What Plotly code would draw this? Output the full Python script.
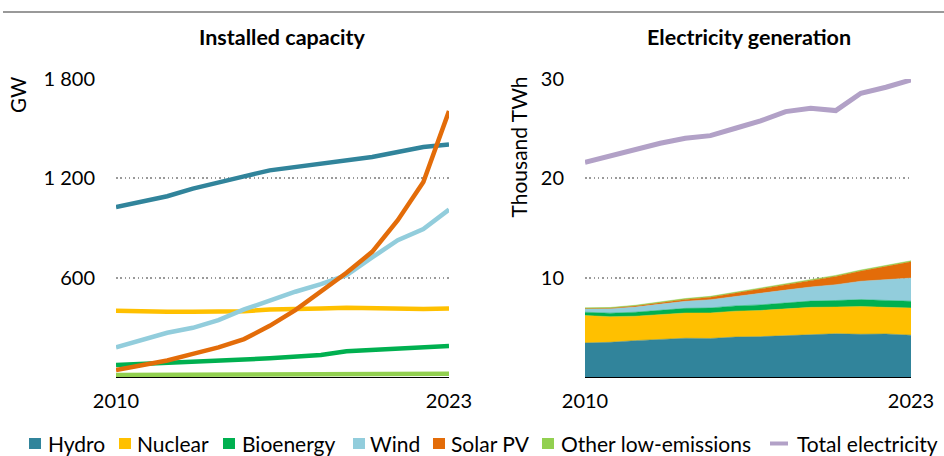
import plotly.graph_objects as go

W, H = 944, 456
FONT = "Lato, Calibri, Carlito, sans-serif"

years = [2010, 2011, 2012, 2013, 2014, 2015, 2016, 2017, 2018, 2019, 2020, 2021, 2022, 2023]

# Installed capacity (GW)
cap_hydro = [1027, 1057, 1092, 1138, 1178, 1212, 1248, 1268, 1289, 1309, 1329, 1359, 1389, 1405]
cap_nuclear = [400, 394, 394, 394, 395, 397, 408, 414, 414, 418, 414, 414, 411, 414]
cap_bio = [72, 80, 87, 93, 100, 106, 113, 121, 133, 155, 164, 172, 180, 187]
cap_wind = [179, 223, 267, 297, 344, 408, 464, 515, 561, 615, 722, 826, 893, 1011]
cap_solar = [42, 70, 100, 140, 179, 229, 309, 404, 515, 630, 756, 947, 1178, 1606]
cap_other = [12, 13, 13, 14, 14, 15, 15, 16, 16, 17, 17, 18, 19, 20]

# Electricity generation (thousand TWh)
gen_hydro = [3.43, 3.49, 3.66, 3.79, 3.90, 3.88, 4.02, 4.06, 4.17, 4.22, 4.35, 4.30, 4.33, 4.21]
gen_nuclear = [2.76, 2.58, 2.46, 2.48, 2.54, 2.57, 2.61, 2.64, 2.71, 2.79, 2.69, 2.80, 2.68, 2.74]
gen_bio = [0.33, 0.36, 0.40, 0.43, 0.47, 0.50, 0.53, 0.56, 0.60, 0.63, 0.66, 0.69, 0.70, 0.68]
gen_wind = [0.34, 0.44, 0.52, 0.64, 0.71, 0.83, 0.96, 1.13, 1.27, 1.42, 1.59, 1.85, 2.10, 2.33]
gen_solar = [0.03, 0.06, 0.10, 0.14, 0.19, 0.25, 0.33, 0.45, 0.57, 0.68, 0.84, 1.02, 1.30, 1.63]
gen_other = [0.07, 0.07, 0.08, 0.08, 0.09, 0.09, 0.09, 0.10, 0.10, 0.10, 0.10, 0.11, 0.11, 0.11]
gen_total = [21.62, 22.29, 22.86, 23.53, 24.03, 24.30, 25.04, 25.78, 26.72, 27.06, 26.82, 28.57, 29.17, 29.91]

series_names = ["Hydro", "Nuclear", "Bioenergy", "Wind", "Solar PV", "Other low-emissions"]
total_name = "Total electricity"

cap_ticks = [600, 1200, 1800]
cap_ticktext = ["600", "1 200", "1 800"]
gen_ticks = [10, 20, 30]
gen_ticktext = ["10", "20", "30"]
x_ticks = [2010, 2023]

colors = ["#31849B", "#FFC000", "#00B050", "#92CDDC", "#E36C09", "#92D050"]
total_color = "#B2A1C7"

cap_series = [cap_hydro, cap_nuclear, cap_bio, cap_wind, cap_solar, cap_other]
gen_series = [gen_hydro, gen_nuclear, gen_bio, gen_wind, gen_solar, gen_other]

fig = go.Figure()

for name, vals, col in zip(series_names, cap_series, colors):
    fig.add_trace(go.Scatter(x=years, y=vals, name=name, mode="lines",
                             line=dict(color=col, width=4.5),
                             xaxis="x", yaxis="y", showlegend=False))

for name, vals, col in zip(series_names, gen_series, colors):
    fig.add_trace(go.Scatter(x=years, y=vals, name=name, mode="lines",
                             stackgroup="gen", fillcolor=col,
                             line=dict(color=col, width=0.5),
                             xaxis="x2", yaxis="y2", showlegend=False))

fig.add_trace(go.Scatter(x=years, y=gen_total, name=total_name, mode="lines",
                         line=dict(color=total_color, width=5),
                         xaxis="x2", yaxis="y2", showlegend=False))

def px_x(p):
    return p / W

def px_y(p):
    return (H - p) / H

ydom = [px_y(377), px_y(79)]
tickfont = dict(family=FONT, size=20, color="#000000")

common_y = dict(showgrid=True, gridcolor="#9a9a9a", gridwidth=1.5, griddash="1.5px,2.8px",
                zeroline=False, showline=False, ticks="", tickfont=tickfont,
                ticklabelstandoff=20, domain=ydom, automargin=False)
common_x = dict(showgrid=False, zeroline=False, showline=True, linecolor="#000000",
                linewidth=1.2, ticks="", tickvals=x_ticks, ticktext=[str(v) for v in x_ticks],
                tickfont=tickfont, ticklabelstandoff=6, range=[2010, 2023], automargin=False)

fig.update_layout(
    template="none",
    width=W, height=H,
    margin=dict(l=0, r=0, t=0, b=0, autoexpand=False),
    paper_bgcolor="#ffffff", plot_bgcolor="#ffffff",
    font=dict(family=FONT, size=20, color="#000000"),
    showlegend=False,
    xaxis=dict(common_x, domain=[px_x(116), px_x(449)], anchor="y"),
    yaxis=dict(common_y, range=[0, 1800], tickvals=cap_ticks, ticktext=cap_ticktext, anchor="x"),
    xaxis2=dict(common_x, domain=[px_x(585), px_x(911)], anchor="y2"),
    yaxis2=dict(common_y, range=[0, 30], tickvals=gen_ticks, ticktext=gen_ticktext, anchor="x2"),
)

shapes = [dict(type="line", xref="paper", yref="paper", x0=px_x(3), x1=1, y0=px_y(12), y1=px_y(12),
               line=dict(color="#999999", width=2))]

annotations = [
    dict(text="<b>Installed capacity</b>", x=px_x(282.5), y=px_y(37), xref="paper", yref="paper",
         xanchor="center", yanchor="middle", showarrow=False, font=dict(family=FONT, size=21.5)),
    dict(text="<b>Electricity generation</b>", x=px_x(749), y=px_y(37), xref="paper", yref="paper",
         xanchor="center", yanchor="middle", showarrow=False, font=dict(family=FONT, size=21.5)),
    dict(text="GW", x=px_x(18), y=px_y(75), xref="paper", yref="paper", textangle=-90,
         xanchor="center", yanchor="top", showarrow=False, font=dict(family=FONT, size=20.5)),
    dict(text="Thousand TWh", x=px_x(518), y=px_y(75), xref="paper", yref="paper", textangle=-90,
         xanchor="center", yanchor="top", showarrow=False, font=dict(family=FONT, size=21)),
]

# Manual legend
leg_marker_x = [29, 119, 223, 353, 433, 542]
leg_text_x = [46, 135, 240, 368, 449, 559]
leg_y = 443.5
for name, col, mx, tx in zip(series_names, colors, leg_marker_x, leg_text_x):
    shapes.append(dict(type="rect", xref="paper", yref="paper",
                       x0=px_x(mx), x1=px_x(mx + 12), y0=px_y(leg_y + 5.5), y1=px_y(leg_y - 5.5),
                       fillcolor=col, line=dict(width=0)))
    annotations.append(dict(text=name, x=px_x(tx), y=px_y(leg_y), xref="paper", yref="paper",
                            xanchor="left", yanchor="middle", showarrow=False,
                            font=dict(family=FONT, size=21)))
shapes.append(dict(type="line", xref="paper", yref="paper", x0=px_x(770), x1=px_x(788),
                   y0=px_y(leg_y), y1=px_y(leg_y), line=dict(color=total_color, width=4)))
annotations.append(dict(text=total_name, x=px_x(795), y=px_y(leg_y), xref="paper", yref="paper",
                        xanchor="left", yanchor="middle", showarrow=False,
                        font=dict(family=FONT, size=21)))

fig.update_layout(shapes=shapes, annotations=annotations)

fig.write_html("out.html", config={"displayModeBar": False},
               post_script="document.body.style.margin='0';document.body.style.overflow='hidden';")
